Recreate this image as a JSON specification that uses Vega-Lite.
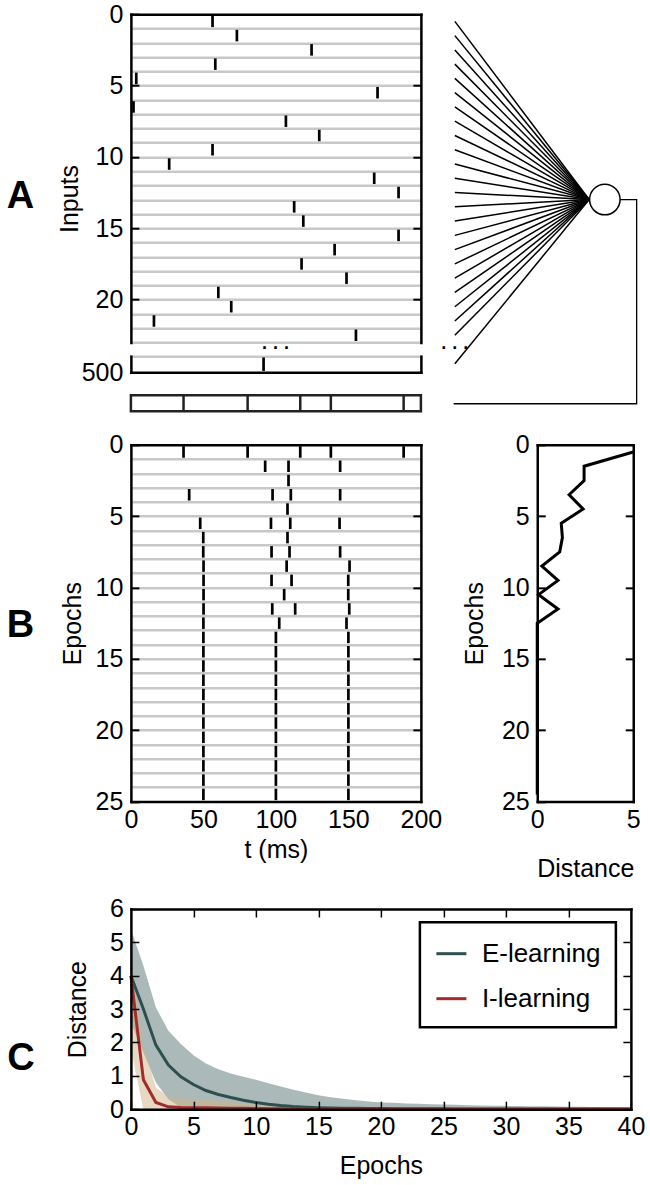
{
  "$schema": "https://vega.github.io/schema/vega-lite/v6.json",
  "background": "white",
  "padding": {"left": 5.9, "top": 2.2, "right": 2, "bottom": 2},
  "config": {
    "font": "Liberation Sans",
    "view": {"stroke": null},
    "axis": {
      "labelFont": "Liberation Sans", "labelFontSize": 25, "labelColor": "black",
      "titleFont": "Liberation Sans", "titleFontSize": 25, "titleFontWeight": "normal", "titleColor": "black",
      "domainColor": "black", "domainWidth": 2.5, "domainCap": "square",
      "tickColor": "black", "tickWidth": 2,
      "labelFlush": false, "labelOverlap": false, "labelBound": false, "grid": false
    },
    "title": {"font": "Liberation Sans", "color": "black"}
  },
  "datasets": {
    "inputs": [
      {"input": 0, "t": 56.3}, {"input": 1, "t": 73.1}, {"input": 2, "t": 124.6}, {"input": 3, "t": 58.2},
      {"input": 4, "t": 3.7}, {"input": 5, "t": 170.1}, {"input": 6, "t": 1.8}, {"input": 7, "t": 106.9},
      {"input": 8, "t": 129.9}, {"input": 9, "t": 56.3}, {"input": 10, "t": 26.4}, {"input": 11, "t": 167.8},
      {"input": 12, "t": 184.6}, {"input": 13, "t": 112.6}, {"input": 14, "t": 118.9}, {"input": 15, "t": 184.6},
      {"input": 16, "t": 140.5}, {"input": 17, "t": 117.7}, {"input": 18, "t": 148.7}, {"input": 19, "t": 60.3},
      {"input": 20, "t": 69.2}, {"input": 21, "t": 15.9}, {"input": 22, "t": 155.2}, {"input": 499, "t": 91.5}
    ],
    "output": [{"t": 36.3}, {"t": 80.5}, {"t": 116.8}, {"t": 137.9}, {"t": 188.1}],
    "fan": [
      {"row": 0}, {"row": 1}, {"row": 2}, {"row": 3}, {"row": 4}, {"row": 5}, {"row": 6}, {"row": 7},
      {"row": 8}, {"row": 9}, {"row": 10}, {"row": 11}, {"row": 12}, {"row": 13}, {"row": 14}, {"row": 15},
      {"row": 16}, {"row": 17}, {"row": 18}, {"row": 19}, {"row": 20}, {"row": 21}, {"row": 22}, {"row": 24}
    ],
    "wire": [
      {"k": 0, "x": 177, "y": 12.49}, {"k": 1, "x": 193.5, "y": 12.49},
      {"k": 2, "x": 193.5, "y": 26.8}, {"k": 3, "x": 10.5, "y": 26.8}
    ],
    "neuron": [{"x": 161.7, "y": 12.49}],
    "dots": [{"label": "· · ·", "x": 12, "y": 22.94}],
    "epochSpikes": [
      {"epoch": 0, "t": 36.3}, {"epoch": 0, "t": 80.5}, {"epoch": 0, "t": 116.8}, {"epoch": 0, "t": 137.9}, {"epoch": 0, "t": 188.1},
      {"epoch": 1, "t": 92.6}, {"epoch": 1, "t": 108.7}, {"epoch": 1, "t": 144.3},
      {"epoch": 2, "t": 108.7},
      {"epoch": 3, "t": 40.2}, {"epoch": 3, "t": 97.7}, {"epoch": 3, "t": 110.3}, {"epoch": 3, "t": 144.3},
      {"epoch": 4, "t": 108.0},
      {"epoch": 5, "t": 47.8}, {"epoch": 5, "t": 96.6}, {"epoch": 5, "t": 109.9}, {"epoch": 5, "t": 143.9},
      {"epoch": 6, "t": 49.9}, {"epoch": 6, "t": 108.0},
      {"epoch": 7, "t": 49.9}, {"epoch": 7, "t": 97.0}, {"epoch": 7, "t": 109.4}, {"epoch": 7, "t": 144.3},
      {"epoch": 8, "t": 50.1}, {"epoch": 8, "t": 107.4}, {"epoch": 8, "t": 150.8},
      {"epoch": 9, "t": 50.1}, {"epoch": 9, "t": 97.0}, {"epoch": 9, "t": 110.8}, {"epoch": 9, "t": 149.9},
      {"epoch": 10, "t": 50.1}, {"epoch": 10, "t": 105.7}, {"epoch": 10, "t": 149.9},
      {"epoch": 11, "t": 50.1}, {"epoch": 11, "t": 97.5}, {"epoch": 11, "t": 113.3}, {"epoch": 11, "t": 150.6},
      {"epoch": 12, "t": 50.0}, {"epoch": 12, "t": 102.3}, {"epoch": 12, "t": 148.7},
      {"epoch": 13, "t": 50}, {"epoch": 13, "t": 100}, {"epoch": 13, "t": 150},
      {"epoch": 14, "t": 50}, {"epoch": 14, "t": 100}, {"epoch": 14, "t": 150},
      {"epoch": 15, "t": 50}, {"epoch": 15, "t": 100}, {"epoch": 15, "t": 150},
      {"epoch": 16, "t": 50}, {"epoch": 16, "t": 100}, {"epoch": 16, "t": 150},
      {"epoch": 17, "t": 50}, {"epoch": 17, "t": 100}, {"epoch": 17, "t": 150},
      {"epoch": 18, "t": 50}, {"epoch": 18, "t": 100}, {"epoch": 18, "t": 150},
      {"epoch": 19, "t": 50}, {"epoch": 19, "t": 100}, {"epoch": 19, "t": 150},
      {"epoch": 20, "t": 50}, {"epoch": 20, "t": 100}, {"epoch": 20, "t": 150},
      {"epoch": 21, "t": 50}, {"epoch": 21, "t": 100}, {"epoch": 21, "t": 150},
      {"epoch": 22, "t": 50}, {"epoch": 22, "t": 100}, {"epoch": 22, "t": 150},
      {"epoch": 23, "t": 50}, {"epoch": 23, "t": 100}, {"epoch": 23, "t": 150},
      {"epoch": 24, "t": 50}, {"epoch": 24, "t": 100}, {"epoch": 24, "t": 150}
    ],
    "distance": [
      {"epoch": 0, "dist": 5.0}, {"epoch": 1, "dist": 2.44}, {"epoch": 2, "dist": 2.44}, {"epoch": 3, "dist": 1.66},
      {"epoch": 4, "dist": 2.39}, {"epoch": 5, "dist": 1.25}, {"epoch": 6, "dist": 1.31}, {"epoch": 7, "dist": 1.17},
      {"epoch": 8, "dist": 0.24}, {"epoch": 9, "dist": 1.08}, {"epoch": 10, "dist": 0.07}, {"epoch": 11, "dist": 1.08},
      {"epoch": 12, "dist": 0}, {"epoch": 13, "dist": 0}, {"epoch": 14, "dist": 0}, {"epoch": 15, "dist": 0},
      {"epoch": 16, "dist": 0}, {"epoch": 17, "dist": 0}, {"epoch": 18, "dist": 0}, {"epoch": 19, "dist": 0},
      {"epoch": 20, "dist": 0}, {"epoch": 21, "dist": 0}, {"epoch": 22, "dist": 0}, {"epoch": 23, "dist": 0},
      {"epoch": 24, "dist": 0}
    ],
    "learning": [
      {"epoch": 0, "method": "E-learning", "mean": 4.0, "lo": 2.6, "hi": 5.4},
      {"epoch": 1, "method": "E-learning", "mean": 3.0, "lo": 1.7, "hi": 4.3},
      {"epoch": 2, "method": "E-learning", "mean": 1.92, "lo": 0.8, "hi": 3.05},
      {"epoch": 3, "method": "E-learning", "mean": 1.32, "lo": 0.3, "hi": 2.35},
      {"epoch": 4, "method": "E-learning", "mean": 0.97, "lo": 0.05, "hi": 1.95},
      {"epoch": 5, "method": "E-learning", "mean": 0.74, "lo": 0, "hi": 1.62},
      {"epoch": 6, "method": "E-learning", "mean": 0.56, "lo": 0, "hi": 1.37},
      {"epoch": 7, "method": "E-learning", "mean": 0.44, "lo": 0, "hi": 1.2},
      {"epoch": 8, "method": "E-learning", "mean": 0.35, "lo": 0, "hi": 1.07},
      {"epoch": 9, "method": "E-learning", "mean": 0.27, "lo": 0, "hi": 0.97},
      {"epoch": 10, "method": "E-learning", "mean": 0.2, "lo": 0, "hi": 0.88},
      {"epoch": 11, "method": "E-learning", "mean": 0.15, "lo": 0, "hi": 0.78},
      {"epoch": 12, "method": "E-learning", "mean": 0.11, "lo": 0, "hi": 0.68},
      {"epoch": 13, "method": "E-learning", "mean": 0.08, "lo": 0, "hi": 0.58},
      {"epoch": 14, "method": "E-learning", "mean": 0.06, "lo": 0, "hi": 0.5},
      {"epoch": 15, "method": "E-learning", "mean": 0.045, "lo": 0, "hi": 0.42},
      {"epoch": 16, "method": "E-learning", "mean": 0.035, "lo": 0, "hi": 0.36},
      {"epoch": 17, "method": "E-learning", "mean": 0.03, "lo": 0, "hi": 0.31},
      {"epoch": 18, "method": "E-learning", "mean": 0.025, "lo": 0, "hi": 0.27},
      {"epoch": 19, "method": "E-learning", "mean": 0.02, "lo": 0, "hi": 0.23},
      {"epoch": 20, "method": "E-learning", "mean": 0.018, "lo": 0, "hi": 0.2},
      {"epoch": 21, "method": "E-learning", "mean": 0.016, "lo": 0, "hi": 0.19},
      {"epoch": 22, "method": "E-learning", "mean": 0.014, "lo": 0, "hi": 0.17},
      {"epoch": 23, "method": "E-learning", "mean": 0.012, "lo": 0, "hi": 0.16},
      {"epoch": 24, "method": "E-learning", "mean": 0.011, "lo": 0, "hi": 0.15},
      {"epoch": 25, "method": "E-learning", "mean": 0.01, "lo": 0, "hi": 0.14},
      {"epoch": 26, "method": "E-learning", "mean": 0.009, "lo": 0, "hi": 0.13},
      {"epoch": 27, "method": "E-learning", "mean": 0.009, "lo": 0, "hi": 0.12},
      {"epoch": 28, "method": "E-learning", "mean": 0.008, "lo": 0, "hi": 0.11},
      {"epoch": 29, "method": "E-learning", "mean": 0.008, "lo": 0, "hi": 0.105},
      {"epoch": 30, "method": "E-learning", "mean": 0.007, "lo": 0, "hi": 0.1},
      {"epoch": 31, "method": "E-learning", "mean": 0.007, "lo": 0, "hi": 0.095},
      {"epoch": 32, "method": "E-learning", "mean": 0.006, "lo": 0, "hi": 0.09},
      {"epoch": 33, "method": "E-learning", "mean": 0.006, "lo": 0, "hi": 0.085},
      {"epoch": 34, "method": "E-learning", "mean": 0.006, "lo": 0, "hi": 0.08},
      {"epoch": 35, "method": "E-learning", "mean": 0.005, "lo": 0, "hi": 0.075},
      {"epoch": 36, "method": "E-learning", "mean": 0.005, "lo": 0, "hi": 0.07},
      {"epoch": 37, "method": "E-learning", "mean": 0.005, "lo": 0, "hi": 0.065},
      {"epoch": 38, "method": "E-learning", "mean": 0.005, "lo": 0, "hi": 0.06},
      {"epoch": 39, "method": "E-learning", "mean": 0.005, "lo": 0, "hi": 0.055},
      {"epoch": 40, "method": "E-learning", "mean": 0.005, "lo": 0, "hi": 0.05},
      {"epoch": 0, "method": "I-learning", "mean": 4.0, "lo": 1.8, "hi": 4.4},
      {"epoch": 1, "method": "I-learning", "mean": 0.88, "lo": 0, "hi": 1.9},
      {"epoch": 2, "method": "I-learning", "mean": 0.2, "lo": 0, "hi": 0.65},
      {"epoch": 3, "method": "I-learning", "mean": 0.07, "lo": 0, "hi": 0.38},
      {"epoch": 4, "method": "I-learning", "mean": 0.05, "lo": 0, "hi": 0.32},
      {"epoch": 5, "method": "I-learning", "mean": 0.045, "lo": 0, "hi": 0.3},
      {"epoch": 6, "method": "I-learning", "mean": 0.04, "lo": 0, "hi": 0.28},
      {"epoch": 7, "method": "I-learning", "mean": 0.035, "lo": 0, "hi": 0.26},
      {"epoch": 8, "method": "I-learning", "mean": 0.03, "lo": 0, "hi": 0.22},
      {"epoch": 9, "method": "I-learning", "mean": 0.025, "lo": 0, "hi": 0.18},
      {"epoch": 10, "method": "I-learning", "mean": 0.02, "lo": 0, "hi": 0.14},
      {"epoch": 11, "method": "I-learning", "mean": 0.015, "lo": 0, "hi": 0.1},
      {"epoch": 12, "method": "I-learning", "mean": 0.01, "lo": 0, "hi": 0.07},
      {"epoch": 13, "method": "I-learning", "mean": 0.008, "lo": 0, "hi": 0.04},
      {"epoch": 14, "method": "I-learning", "mean": 0.006, "lo": 0, "hi": 0.02},
      {"epoch": 15, "method": "I-learning", "mean": 0.005, "lo": 0, "hi": 0.01},
      {"epoch": 16, "method": "I-learning", "mean": 0.004, "lo": 0, "hi": 0.005},
      {"epoch": 17, "method": "I-learning", "mean": 0.003, "lo": 0, "hi": 0},
      {"epoch": 18, "method": "I-learning", "mean": 0.002, "lo": 0, "hi": 0},
      {"epoch": 19, "method": "I-learning", "mean": 0.001, "lo": 0, "hi": 0},
      {"epoch": 20, "method": "I-learning", "mean": 0, "lo": 0, "hi": 0},
      {"epoch": 25, "method": "I-learning", "mean": 0, "lo": 0, "hi": 0},
      {"epoch": 30, "method": "I-learning", "mean": 0, "lo": 0, "hi": 0},
      {"epoch": 35, "method": "I-learning", "mean": 0, "lo": 0, "hi": 0},
      {"epoch": 40, "method": "I-learning", "mean": 0, "lo": 0, "hi": 0}
    ]
  },
  "align": "each",
  "bounds": "full",
  "spacing": 14.8,
  "vconcat": [
    {
      "align": "each",
      "bounds": "full",
      "spacing": 18.65,
      "vconcat": [
        {
          "align": "each",
          "bounds": "full",
          "spacing": 18.25,
          "hconcat": [
            {
              "align": "each",
              "bounds": "flush",
              "spacing": 13,
              "vconcat": [
                {
                  "width": 290,
                  "height": 328.2,
                  "title": {"text": "A", "orient": "left", "angle": 0, "align": "left", "baseline": "middle", "fontSize": 38, "fontWeight": "bold", "offset": 23.2, "dy": 19.2, "anchor": "middle"},
                  "data": {"name": "inputs"},
                  "transform": [{"filter": "datum.input < 100"}],
                  "layer": [
                    {
                      "mark": {"type": "tick", "orient": "vertical", "size": 11.5, "thickness": 2.7, "color": "black", "opacity": 1},
                      "encoding": {
                        "x": {"field": "t", "type": "quantitative", "scale": {"domain": [0, 200], "nice": false},
                              "axis": {"orient": "top", "labels": false, "ticks": false, "title": null, "zindex": 1}},
                        "y": {"field": "input", "type": "quantitative", "scale": {"domain": [-0.5, 22.5], "reverse": true, "nice": false, "zero": false},
                              "axis": {"orient": "left", "values": [-0.5, 4.5, 9.5, 14.5, 19.5], "labelExpr": "format(datum.value + 0.5, 'd')",
                                       "tickSize": -8, "labelPadding": 16, "title": "Inputs", "titlePadding": 12.7, "titleY": 184.3, "zindex": 1}}
                      }
                    },
                    {
                      "mark": {"type": "tick", "orient": "vertical", "opacity": 0},
                      "encoding": {
                        "x": {"field": "t", "type": "quantitative", "axis": null},
                        "y": {"field": "input", "type": "quantitative",
                              "axis": {"orient": "right", "values": [4.5, 9.5, 14.5, 19.5], "labels": false, "tickSize": -8, "title": null, "zindex": 1}}
                      }
                    },
                    {
                      "mark": {"type": "tick", "orient": "vertical", "opacity": 0},
                      "encoding": {
                        "x": {"field": "t", "type": "quantitative", "axis": null},
                        "y": {"field": "input", "type": "quantitative",
                              "axis": {"orient": "left", "values": [0.5, 1.5, 2.5, 3.5, 4.5, 5.5, 6.5, 7.5, 8.5, 9.5, 10.5, 11.5, 12.5, 13.5, 14.5, 15.5, 16.5, 17.5, 18.5, 19.5, 20.5, 21.5, 22.5],
                                       "grid": true, "gridColor": "#c8c8c8", "gridWidth": 2.5, "labels": false, "ticks": false, "domain": false, "title": null, "zindex": 0}}
                      }
                    }
                  ],
                  "resolve": {"axis": {"x": "independent", "y": "independent"}}
                },
                {
                  "width": 290,
                  "height": 26,
                  "title": {"text": "· · ·", "fontSize": 18, "fontWeight": "bold", "offset": 5.5, "dy": 16, "baseline": "middle", "anchor": "middle", "color": "black"},
                  "data": {"name": "inputs"},
                  "transform": [{"filter": "datum.input > 100"}],
                  "layer": [
                    {
                      "mark": {"type": "tick", "orient": "vertical", "size": 13.5, "thickness": 2.7, "color": "black", "opacity": 1},
                      "encoding": {
                        "x": {"field": "t", "type": "quantitative", "scale": {"domain": [0, 200], "nice": false},
                              "axis": {"orient": "bottom", "offset": -10, "labels": false, "ticks": false, "title": null, "zindex": 1}},
                        "y": {"field": "input", "type": "quantitative", "scale": {"domain": [498.5, 499.5], "range": [0, 16], "nice": false, "zero": false},
                              "axis": {"orient": "left", "values": [499.5], "labelExpr": "format(datum.value + 0.5, 'd')", "ticks": false, "labelPadding": 8, "title": null, "zindex": 1}}
                      }
                    },
                    {
                      "mark": {"type": "tick", "orient": "vertical", "opacity": 0},
                      "encoding": {
                        "x": {"field": "t", "type": "quantitative",
                              "axis": {"orient": "top", "labels": false, "ticks": false, "title": null, "domainColor": "#c8c8c8", "zindex": 0}},
                        "y": {"field": "input", "type": "quantitative",
                              "axis": {"orient": "right", "labels": false, "ticks": false, "title": null, "zindex": 1}}
                      }
                    }
                  ],
                  "resolve": {"axis": {"x": "independent", "y": "independent"}}
                },
                {
                  "width": 290,
                  "height": 16,
                  "view": {"stroke": "#222", "strokeWidth": 2.5},
                  "data": {"name": "output"},
                  "mark": {"type": "rule", "strokeWidth": 2.5, "color": "#222"},
                  "encoding": {"x": {"field": "t", "type": "quantitative", "scale": {"domain": [0, 200], "nice": false}, "axis": null}}
                }
              ]
            },
            {
              "width": 200,
              "height": 396.2,
              "layer": [
                {
                  "data": {"name": "fan"},
                  "mark": {"type": "rule", "strokeWidth": 1.5, "color": "black"},
                  "encoding": {
                    "x": {"datum": 11.7, "type": "quantitative", "scale": {"domain": [0, 200], "nice": false, "zero": false}, "axis": null},
                    "x2": {"datum": 146},
                    "y": {"field": "row", "type": "quantitative", "scale": {"domain": [-0.5, 27.265], "reverse": true, "nice": false, "zero": false}, "axis": null},
                    "y2": {"datum": 12.49}
                  }
                },
                {
                  "data": {"name": "wire"},
                  "mark": {"type": "line", "strokeWidth": 1.3, "color": "black"},
                  "encoding": {
                    "x": {"field": "x", "type": "quantitative", "axis": null},
                    "y": {"field": "y", "type": "quantitative", "axis": null},
                    "order": {"field": "k"}
                  }
                },
                {
                  "data": {"name": "neuron"},
                  "mark": {"type": "point", "shape": "circle", "filled": true, "fill": "white", "stroke": "black", "strokeWidth": 1.5, "size": 930, "opacity": 1},
                  "encoding": {
                    "x": {"field": "x", "type": "quantitative", "axis": null},
                    "y": {"field": "y", "type": "quantitative", "axis": null}
                  }
                },
                {
                  "data": {"name": "dots"},
                  "mark": {"type": "text", "fontSize": 18, "fontWeight": "bold", "color": "black", "baseline": "middle"},
                  "encoding": {
                    "x": {"field": "x", "type": "quantitative", "axis": null},
                    "y": {"field": "y", "type": "quantitative", "axis": null},
                    "text": {"field": "label"}
                  }
                }
              ]
            }
          ]
        },
        {
          "align": "each",
          "bounds": "full",
          "spacing": 20.35,
          "hconcat": [
            {
              "width": 290,
              "height": 356.7,
              "title": {"text": "B", "orient": "left", "angle": 0, "align": "left", "baseline": "middle", "fontSize": 38, "fontWeight": "bold", "offset": 26.2, "dy": 2.5, "anchor": "middle"},
              "data": {"name": "epochSpikes"},
              "layer": [
                {
                  "mark": {"type": "tick", "orient": "vertical", "size": 11.5, "thickness": 2.7, "color": "black", "opacity": 1},
                  "encoding": {
                    "x": {"field": "t", "type": "quantitative", "scale": {"domain": [0, 200], "nice": false},
                          "axis": {"orient": "bottom", "values": [0, 50, 100, 150, 200], "ticks": false, "labelPadding": 5.5, "title": "t (ms)", "titlePadding": 5, "zindex": 1}},
                    "y": {"field": "epoch", "type": "quantitative", "scale": {"domain": [-0.5, 24.5], "reverse": true, "nice": false, "zero": false},
                          "axis": {"orient": "left", "values": [-0.5, 4.5, 9.5, 14.5, 19.5, 24.5], "labelExpr": "format(datum.value + 0.5, 'd')",
                                   "tickSize": -8, "labelPadding": 16, "title": "Epochs", "titlePadding": 9.7, "zindex": 1}}
                  }
                },
                {
                  "mark": {"type": "tick", "orient": "vertical", "opacity": 0},
                  "encoding": {
                    "x": {"field": "t", "type": "quantitative", "axis": {"orient": "top", "labels": false, "ticks": false, "title": null, "zindex": 1}},
                    "y": {"field": "epoch", "type": "quantitative",
                          "axis": {"orient": "right", "values": [4.5, 9.5, 14.5, 19.5], "labels": false, "tickSize": -8, "title": null, "zindex": 1}}
                  }
                },
                {
                  "mark": {"type": "tick", "orient": "vertical", "opacity": 0},
                  "encoding": {
                    "x": {"field": "t", "type": "quantitative", "axis": null},
                    "y": {"field": "epoch", "type": "quantitative",
                          "axis": {"orient": "left", "values": [0.5, 1.5, 2.5, 3.5, 4.5, 5.5, 6.5, 7.5, 8.5, 9.5, 10.5, 11.5, 12.5, 13.5, 14.5, 15.5, 16.5, 17.5, 18.5, 19.5, 20.5, 21.5, 22.5, 23.5],
                                   "grid": true, "gridColor": "#c8c8c8", "gridWidth": 2.5, "labels": false, "ticks": false, "domain": false, "title": null, "zindex": 0}}
                  }
                }
              ],
              "resolve": {"axis": {"x": "independent", "y": "independent"}}
            },
            {
              "width": 96,
              "height": 356.7,
              "data": {"name": "distance"},
              "layer": [
                {
                  "mark": {"type": "line", "strokeWidth": 3, "color": "black"},
                  "encoding": {
                    "x": {"field": "dist", "type": "quantitative", "scale": {"domain": [0, 5], "nice": false},
                          "axis": {"orient": "bottom", "values": [0, 5], "ticks": false, "labelPadding": 6, "title": "Distance", "titlePadding": 24, "zindex": 1}},
                    "y": {"field": "epoch", "type": "quantitative", "scale": {"domain": [-0.5, 24.5], "reverse": true, "nice": false, "zero": false},
                          "axis": {"orient": "left", "values": [-0.5, 4.5, 9.5, 14.5, 19.5, 24.5], "labelExpr": "format(datum.value + 0.5, 'd')",
                                   "tickSize": -8, "labelPadding": 16, "title": "Epochs", "titlePadding": 14, "zindex": 1}},
                    "order": {"field": "epoch"}
                  }
                },
                {
                  "mark": {"type": "line", "opacity": 0},
                  "encoding": {
                    "x": {"field": "dist", "type": "quantitative", "axis": {"orient": "top", "labels": false, "ticks": false, "title": null, "zindex": 1}},
                    "y": {"field": "epoch", "type": "quantitative",
                          "axis": {"orient": "right", "values": [4.5, 9.5, 14.5, 19.5], "labels": false, "tickSize": -8, "title": null, "zindex": 1}},
                    "order": {"field": "epoch"}
                  }
                }
              ],
              "resolve": {"axis": {"x": "independent", "y": "independent"}}
            }
          ]
        }
      ]
    },
    {
      "align": "each",
      "bounds": "full",
      "vconcat": [
        {
          "width": 500,
          "height": 200.2,
          "title": {"text": "C", "orient": "left", "angle": 0, "align": "left", "baseline": "middle", "fontSize": 38, "fontWeight": "bold", "offset": 30.7, "dy": 50, "anchor": "middle"},
          "data": {"name": "learning"},
          "layer": [
            {
              "transform": [{"filter": "datum.method === 'E-learning'"}],
              "mark": {"type": "area", "color": "#2f4f4f", "opacity": 0.4},
              "encoding": {
                "x": {"field": "epoch", "type": "quantitative", "scale": {"domain": [0, 40], "nice": false},
                      "axis": {"orient": "bottom", "values": [0, 5, 10, 15, 20, 25, 30, 35, 40], "tickSize": -8, "tickWidth": 1.5, "labelPadding": 13.4, "title": "Epochs", "titlePadding": 13.7, "zindex": 1}},
                "y": {"field": "hi", "type": "quantitative", "scale": {"domain": [0, 6], "nice": false},
                      "axis": {"orient": "left", "values": [0, 1, 2, 3, 4, 5, 6], "tickSize": -8, "tickWidth": 1.5, "labelPadding": 15.6, "title": "Distance", "titlePadding": 19, "zindex": 1}},
                "y2": {"field": "lo"}
              }
            },
            {
              "transform": [{"filter": "datum.method === 'I-learning'"}],
              "mark": {"type": "area", "color": "#d2b48c", "opacity": 0.5},
              "encoding": {
                "x": {"field": "epoch", "type": "quantitative",
                      "axis": {"orient": "top", "values": [5, 10, 15, 20, 25, 30, 35], "labels": false, "tickSize": -8, "tickWidth": 1.5, "title": null, "zindex": 1}},
                "y": {"field": "hi", "type": "quantitative",
                      "axis": {"orient": "right", "values": [1, 2, 3, 4, 5], "labels": false, "tickSize": -8, "tickWidth": 1.5, "title": null, "zindex": 1}},
                "y2": {"field": "lo"}
              }
            },
            {
              "mark": {"type": "line", "strokeWidth": 3},
              "encoding": {
                "x": {"field": "epoch", "type": "quantitative", "axis": null},
                "y": {"field": "mean", "type": "quantitative", "axis": null},
                "color": {"field": "method", "type": "nominal",
                          "scale": {"domain": ["E-learning", "I-learning"], "range": ["#2f4f4f", "#a52a2a"]},
                          "legend": {"orient": "none", "legendX": 289, "legendY": 908, "title": null,
                                     "symbolType": "stroke", "symbolSize": 900, "symbolStrokeWidth": 3,
                                     "labelFontSize": 26, "labelFont": "Liberation Sans", "labelColor": "black", "labelOffset": 14,
                                     "padding": 15, "rowPadding": 15, "strokeColor": "black", "fillColor": "white",
                                     "encode": {"legend": {"update": {"strokeWidth": {"value": 2.5}}}}}}
              }
            }
          ],
          "resolve": {"axis": {"x": "independent", "y": "independent"}}
        }
      ]
    }
  ]
}
